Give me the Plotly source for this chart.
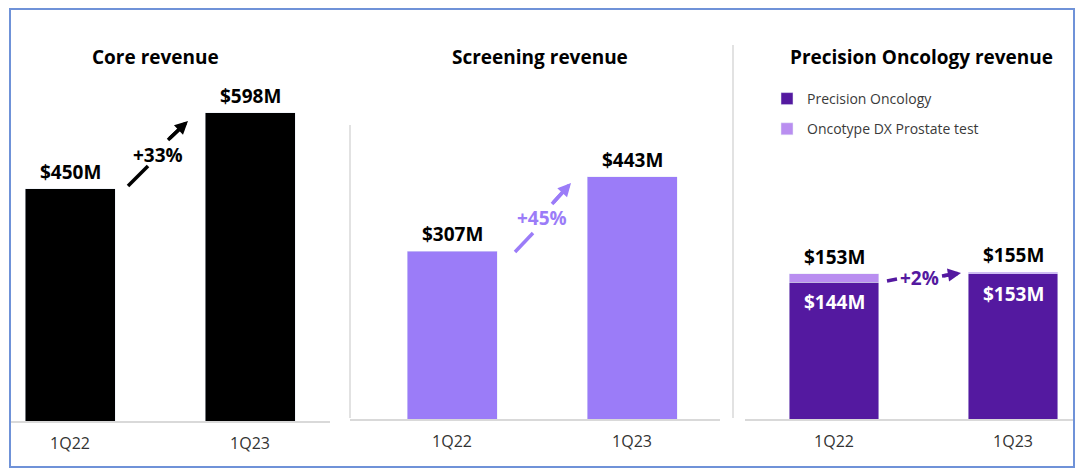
import plotly.graph_objects as go

W, H = 1080, 474

quarters = ["1Q22", "1Q23"]
core_revenue = [450, 598]
screening_revenue = [307, 443]
precision_oncology = [144, 153]
oncotype_prostate = [9, 2]
growth_labels = ["+33%", "+45%", "+2%"]
panel_titles = ["Core revenue", "Screening revenue", "Precision Oncology revenue"]

BLACK = "#000000"
SCREEN = "#9b7cf8"
DARK = "#5419a0"
LIGHT = "#b98ef0"
GRID = "#d9d9d9"
FONT = "Open Sans"


def px(x):
    return x / W


def py(y):
    return 1 - y / H


fig = go.Figure()

fig.add_trace(go.Bar(x=quarters, y=core_revenue, marker_color=BLACK, width=0.5,
                     showlegend=False, xaxis="x", yaxis="y", hoverinfo="skip"))
fig.add_trace(go.Bar(x=quarters, y=screening_revenue, marker_color=SCREEN, width=0.5,
                     showlegend=False, xaxis="x2", yaxis="y2", hoverinfo="skip"))
fig.add_trace(go.Bar(x=quarters, y=precision_oncology, marker_color=DARK, width=0.5,
                     name="Precision Oncology", legendgroup="a", xaxis="x3", yaxis="y3"))
fig.add_trace(go.Bar(x=quarters, y=oncotype_prostate, marker_color=LIGHT, width=0.5,
                     name="Oncotype DX Prostate test", legendgroup="b", xaxis="x3", yaxis="y3"))

# panel geometry (pixels): x-domain, baseline, px per unit, category centers
panels = [
    dict(x0=11, x1=330, base=421, scale=0.5156, c0=70, c1=250, top=45),
    dict(x0=350, x1=720, base=419, scale=0.547, c0=452, c1=632, top=45),
    dict(x0=745, x1=1073, base=419, scale=0.948, c0=834, c1=1013, top=45),
]

layout = dict(
    width=W, height=H, margin=dict(l=0, r=0, t=0, b=0),
    paper_bgcolor="white", plot_bgcolor="white", barmode="stack",
    font=dict(family=FONT, color="#000"),
    showlegend=True,
    legend=dict(x=px(767), y=py(83), xanchor="left", yanchor="top",
                traceorder="grouped", tracegroupgap=9,
                font=dict(size=14, color="#3a3a3a", family=FONT),
                bgcolor="rgba(0,0,0,0)"),
)

for i, p in enumerate(panels):
    sfx = "" if i == 0 else str(i + 1)
    unit = p["c1"] - p["c0"]
    xr = [-(p["c0"] - p["x0"]) / unit, 1 + (p["x1"] - p["c1"]) / unit]
    ytop = (p["base"] - p["top"]) / p["scale"]
    layout["xaxis" + sfx] = dict(
        domain=[px(p["x0"]), px(p["x1"])], range=xr, type="category",
        anchor="y" + sfx, showline=True, linecolor=GRID, linewidth=1.5,
        showgrid=False, zeroline=False, ticks="outside", ticklen=7,
        tickcolor="rgba(0,0,0,0)",
        tickfont=dict(size=16, color="#333", family=FONT), fixedrange=True,
    )
    layout["yaxis" + sfx] = dict(
        domain=[py(p["base"]), py(p["top"])], range=[0, ytop], anchor="x" + sfx,
        visible=False, fixedrange=True,
    )

fig.update_layout(**layout)

annotations = []
BIG = 19

# titles
for t, cx in zip(panel_titles, [155, 540, 921]):
    annotations.append(dict(x=px(cx), y=py(57), xref="paper", yref="paper", text=f"<b>{t}</b>",
                            showarrow=False, font=dict(size=BIG, color="#000", family=FONT),
                            xanchor="center", yanchor="middle"))

# value labels
for q, v in zip(quarters, core_revenue):
    annotations.append(dict(x=q, y=v, xref="x", yref="y", text=f"<b>${v}M</b>", showarrow=False,
                            font=dict(size=BIG, color="#000", family=FONT), yanchor="bottom", yshift=2))
for q, v in zip(quarters, screening_revenue):
    annotations.append(dict(x=q, y=v, xref="x2", yref="y2", text=f"<b>${v}M</b>", showarrow=False,
                            font=dict(size=BIG, color="#000", family=FONT), yanchor="bottom", yshift=2))
for q, a, b in zip(quarters, precision_oncology, oncotype_prostate):
    annotations.append(dict(x=q, y=a + b, xref="x3", yref="y3", text=f"<b>${a + b}M</b>", showarrow=False,
                            font=dict(size=BIG, color="#000", family=FONT), yanchor="bottom", yshift=2))
    annotations.append(dict(x=q, y=a, xref="x3", yref="y3", text=f"<b>${a}M</b>", showarrow=False,
                            font=dict(size=BIG, color="#fff", family=FONT), yanchor="top", yshift=-5))

# growth arrows
growth = [
    dict(seg=(128, 186, 148, 166), head=(168, 140, 188, 121), txt=(158, 155), color="#000"),
    dict(seg=(515, 252, 533, 233), head=(552, 204, 571, 183), txt=(542, 218), color=SCREEN),
    dict(seg=(887, 281, 897, 279), head=(942, 276, 961, 273), txt=(919, 278), color=DARK),
]
shapes = []
for g, lab in zip(growth, growth_labels):
    x0, y0, x1, y1 = g["seg"]
    shapes.append(dict(type="line", xref="paper", yref="paper", x0=px(x0), y0=py(y0), x1=px(x1), y1=py(y1),
                       line=dict(color=g["color"], width=3.5)))
    hx0, hy0, hx1, hy1 = g["head"]
    shapes.append(dict(type="line", xref="paper", yref="paper", x0=px(hx0), y0=py(hy0),
                       x1=px(hx1 - (hx1 - hx0) * 0.3), y1=py(hy1 - (hy1 - hy0) * 0.3),
                       line=dict(color=g["color"], width=3.5)))
    annotations.append(dict(x=px(hx1), y=py(hy1), xref="paper", yref="paper", ax=hx0 - hx1, ay=hy0 - hy1,
                            axref="pixel", ayref="pixel", text="", showarrow=True, arrowhead=2,
                            arrowsize=0.75, arrowwidth=3.5, arrowcolor=g["color"]))
    annotations.append(dict(x=px(g["txt"][0]), y=py(g["txt"][1]), xref="paper", yref="paper",
                            xanchor="center", yanchor="middle",
                            text=f"<b>{lab}</b>", showarrow=False,
                            font=dict(size=BIG, color=g["color"], family=FONT)))

# separators and border
shapes.append(dict(type="line", xref="paper", yref="paper", x0=px(350), x1=px(350), y0=py(125), y1=py(418),
                   line=dict(color=GRID, width=1.5)))
shapes.append(dict(type="line", xref="paper", yref="paper", x0=px(733), x1=px(733), y0=py(45), y1=py(418),
                   line=dict(color=GRID, width=1.5)))
shapes.append(dict(type="rect", xref="paper", yref="paper", x0=px(10), x1=px(1074), y0=py(9), y1=py(467),
                   line=dict(color="#6f92d8", width=2)))

fig.update_layout(annotations=annotations, shapes=shapes)
fig.write_html("out.html")
